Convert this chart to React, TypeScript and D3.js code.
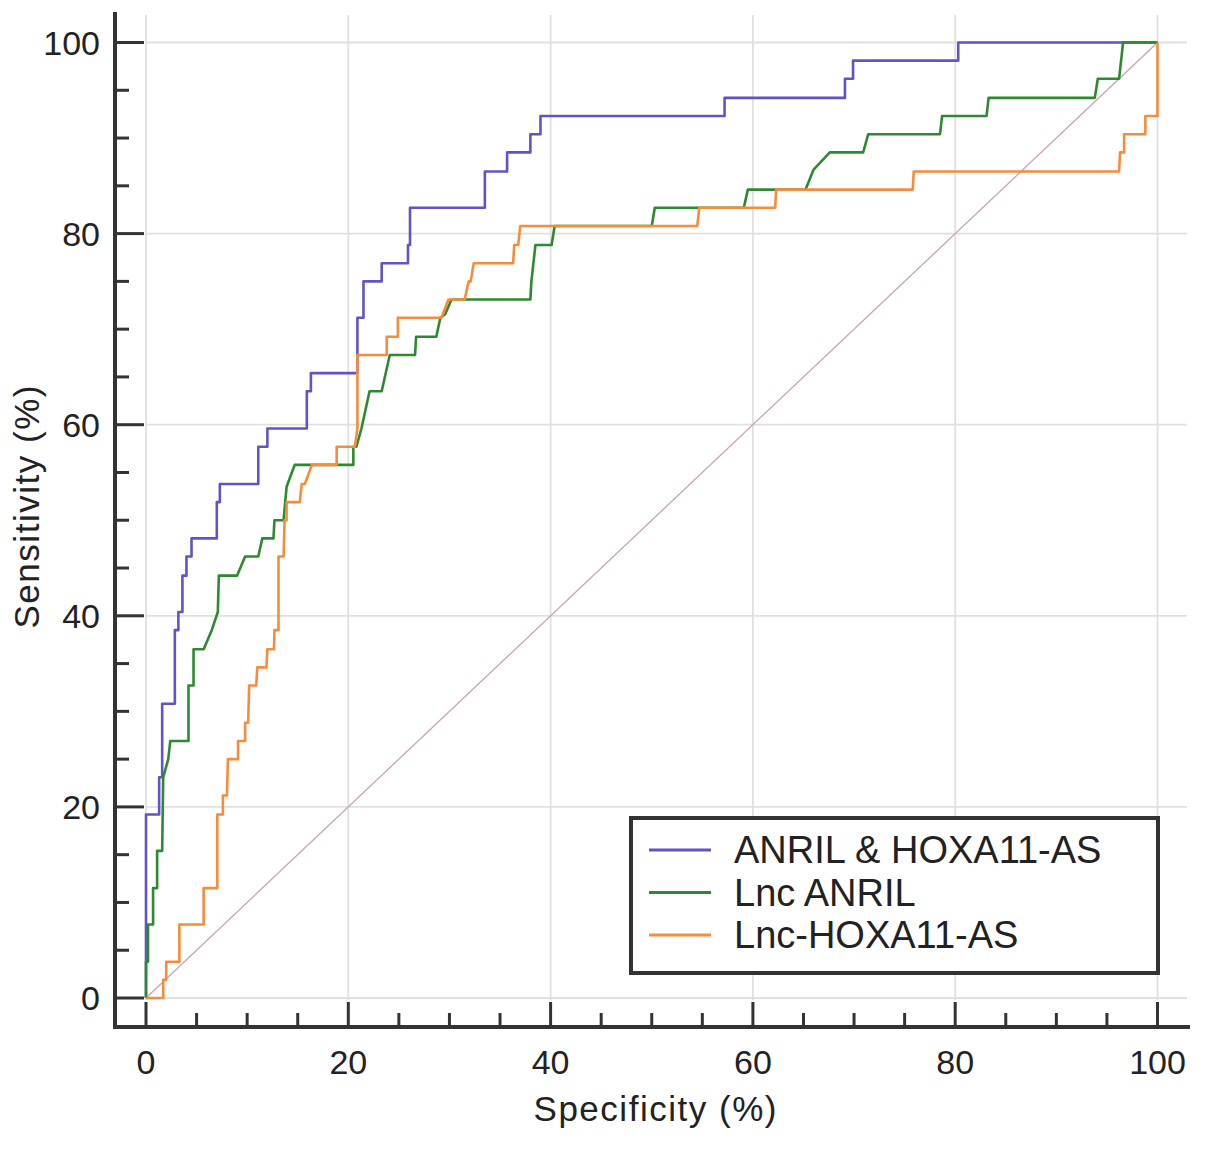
import * as d3 from 'd3';

// ROC curves: [100 - specificity, sensitivity] vertices
const comboPoints: [number, number][] = [
  [0, 0], [0, 19.2], [1.3, 19.2], [1.3, 23.1], [1.6, 23.1], [1.6, 30.8], [2.85, 30.8], [2.85, 38.5],
  [3.2, 38.5], [3.2, 40.4], [3.6, 40.4], [3.6, 44.2], [4.0, 44.2], [4.0, 46.2], [4.5, 46.2], [4.5, 48.1],
  [7.0, 48.1], [7.0, 51.9], [7.3, 51.9], [7.3, 53.8], [11.1, 53.8], [11.1, 57.7], [12.0, 57.7], [12.0, 59.6],
  [15.9, 59.6], [15.9, 63.5], [16.3, 63.5], [16.3, 65.4], [20.9, 65.4], [20.9, 71.2], [21.5, 71.2], [21.5, 75.0],
  [23.3, 75.0], [23.3, 76.9], [25.9, 76.9], [25.9, 78.8], [26.1, 78.8], [26.1, 82.7], [33.5, 82.7], [33.5, 86.5],
  [35.7, 86.5], [35.7, 88.5], [38.0, 88.5], [38.0, 90.4], [39.0, 90.4], [39.0, 92.3], [57.2, 92.3], [57.2, 94.2],
  [69.1, 94.2], [69.1, 96.2], [69.9, 96.2], [69.9, 98.1], [80.3, 98.1], [80.3, 100], [100, 100],
];

const anrilPoints: [number, number][] = [
  [0, 0], [0, 3.8], [0.2, 3.8], [0.2, 7.7], [0.7, 7.7], [0.7, 11.5], [1.1, 11.5], [1.1, 15.4], [1.6, 15.4],
  [1.7, 23.1], [2.2, 25.0], [2.4, 26.9], [4.2, 26.9], [4.2, 32.7], [4.7, 32.7], [4.7, 36.5], [5.7, 36.5],
  [6.5, 38.5], [7.1, 40.4], [7.2, 44.2], [9.0, 44.2], [9.8, 46.2], [11.1, 46.2], [11.5, 48.1], [12.6, 48.1],
  [12.7, 50.0], [13.6, 50.0], [13.9, 53.5], [14.7, 55.8], [20.5, 55.8], [20.5, 57.7], [20.8, 57.7],
  [21.3, 59.6], [22.1, 63.5], [23.3, 63.5], [24.1, 67.3], [26.6, 67.3], [26.7, 69.2], [28.7, 69.2],
  [29.1, 71.2], [29.6, 71.6], [30.2, 73.1], [38.0, 73.1], [38.1, 75.0], [38.5, 78.8], [40.1, 78.8],
  [40.4, 80.8], [50.0, 80.8], [50.3, 82.7], [59.1, 82.7], [59.5, 84.6], [65.2, 84.6], [66.0, 86.7],
  [67.6, 88.5], [70.9, 88.5], [71.4, 90.4], [78.5, 90.4], [78.7, 92.3], [83.1, 92.3], [83.3, 94.2],
  [93.8, 94.2], [94.1, 96.2], [96.2, 96.2], [96.4, 98.1], [96.6, 100], [100, 100],
];

const hoxaPoints: [number, number][] = [
  [0, 0], [1.7, 0], [1.7, 1.9], [2.0, 1.9], [2.0, 3.8], [3.3, 3.8], [3.3, 7.7], [5.7, 7.7], [5.7, 11.5],
  [7.05, 11.5], [7.05, 19.2], [7.6, 19.2], [7.6, 21.2], [8.0, 21.2], [8.1, 25.0], [9.1, 25.0], [9.1, 26.9],
  [9.8, 26.9], [9.8, 28.8], [10.1, 28.8], [10.2, 32.7], [10.9, 32.7], [11.0, 34.6], [11.9, 34.6], [12.0, 36.5],
  [12.65, 36.5], [12.7, 38.5], [13.1, 38.5], [13.1, 46.2], [13.6, 46.2], [13.7, 50.0], [13.9, 50.0],
  [13.9, 51.9], [15.2, 51.9], [15.4, 53.8], [15.7, 53.8], [16.4, 55.8], [18.85, 55.8], [18.85, 57.7],
  [20.65, 57.7], [20.9, 59.6], [20.9, 67.3], [23.8, 67.3], [23.8, 69.2], [24.9, 69.2], [24.9, 71.2],
  [29.2, 71.2], [29.9, 73.1], [31.5, 73.1], [31.9, 75.0], [32.1, 75.0], [32.4, 76.9], [36.3, 76.9],
  [36.4, 78.8], [36.8, 78.8], [37.0, 80.8], [54.5, 80.8], [54.7, 82.7], [62.2, 82.7], [62.3, 84.6],
  [75.8, 84.6], [75.9, 86.5], [96.2, 86.5], [96.3, 88.5], [96.7, 88.5], [96.7, 90.4], [98.8, 90.4],
  [98.8, 92.3], [100, 92.3], [100, 100],
];

const seriesNames = ['ANRIL & HOXA11-AS', 'Lnc ANRIL', 'Lnc-HOXA11-AS'];
const seriesColors = ['#5f55c8', '#2e8a30', '#f78c3c'];
const majorTicks = [0, 20, 40, 60, 80, 100];
const minorTicks = d3.range(0, 101, 5).filter(v => v % 20 !== 0);

const W = 1205;
const H = 1150;
const FONT = '"Liberation Sans", Arial, sans-serif';

export default function App() {
  const x = d3.scaleLinear().domain([0, 100]).range([146, 1157.5]);
  const y = d3.scaleLinear().domain([0, 100]).range([998, 42.5]);
  const line = d3.line<[number, number]>().x(d => x(d[0])).y(d => y(d[1]));

  const axisLeft = 115;
  const axisBottom = 1027;
  const series = [comboPoints, anrilPoints, hoxaPoints];

  return (
    <svg width={W} height={H} style={{ position: 'absolute', left: 0, top: 0, background: '#fff' }}
      fontFamily={FONT}>
      {/* grid */}
      <g stroke="#e0e0e0" strokeWidth={1.8}>
        {majorTicks.map(t => (
          <line key={'gx' + t} x1={x(t)} x2={x(t)} y1={15} y2={1000} />
        ))}
        {majorTicks.map(t => (
          <line key={'gy' + t} x1={146} x2={1187} y1={y(t)} y2={y(t)} />
        ))}
      </g>

      {/* reference diagonal */}
      <line x1={x(0)} y1={y(0)} x2={x(100)} y2={y(100)} stroke="#c9a2b6" strokeWidth={1.3} />

      {series.map((pts, i) => (
        <path key={i} d={line(pts) ?? ''} fill="none" stroke={seriesColors[i]} strokeWidth={2.6}
          strokeLinejoin="round" />
      ))}

      {/* axes */}
      <g stroke="#333" strokeWidth={4}>
        <line x1={axisLeft} x2={axisLeft} y1={12} y2={axisBottom + 2} />
        <line x1={axisLeft - 2} x2={1190} y1={axisBottom} y2={axisBottom} />
      </g>
      <g stroke="#333" strokeWidth={3}>
        {majorTicks.map(t => (
          <line key={'my' + t} x1={axisLeft} x2={axisLeft + 29} y1={y(t)} y2={y(t)} />
        ))}
        {minorTicks.map(t => (
          <line key={'ny' + t} x1={axisLeft} x2={axisLeft + 14} y1={y(t)} y2={y(t)} />
        ))}
        {majorTicks.map(t => (
          <line key={'mx' + t} x1={x(t)} x2={x(t)} y1={axisBottom} y2={axisBottom - 25} />
        ))}
        {minorTicks.map(t => (
          <line key={'nx' + t} x1={x(t)} x2={x(t)} y1={axisBottom} y2={axisBottom - 14} />
        ))}
      </g>

      {/* tick labels */}
      <g fill="#222" fontSize={34}>
        {majorTicks.map(t => (
          <text key={'ly' + t} x={100} y={y(t)} dy="0.36em" textAnchor="end">{t}</text>
        ))}
        {majorTicks.map(t => (
          <text key={'lx' + t} x={x(t)} y={1074} textAnchor="middle">{t}</text>
        ))}
      </g>

      {/* axis titles */}
      <text x={655} y={1121} fontSize={35} fill="#222" textAnchor="middle" textLength={243}
        lengthAdjust="spacing">Specificity (%)</text>
      <text transform="translate(39,507) rotate(-90)" fontSize={35} fill="#222" textAnchor="middle"
        textLength={243} lengthAdjust="spacing">Sensitivity (%)</text>

      {/* legend */}
      <rect x={631} y={818} width={527} height={155} fill="#fff" stroke="#333" strokeWidth={4} />
      {seriesNames.map((name, i) => (
        <g key={name}>
          <line x1={649} x2={711} y1={850 + i * 42.5} y2={850 + i * 42.5} stroke={seriesColors[i]}
            strokeWidth={2.8} />
          <text x={734} y={863 + i * 42.5} fontSize={38} fill="#222">{name}</text>
        </g>
      ))}
    </svg>
  );
}
